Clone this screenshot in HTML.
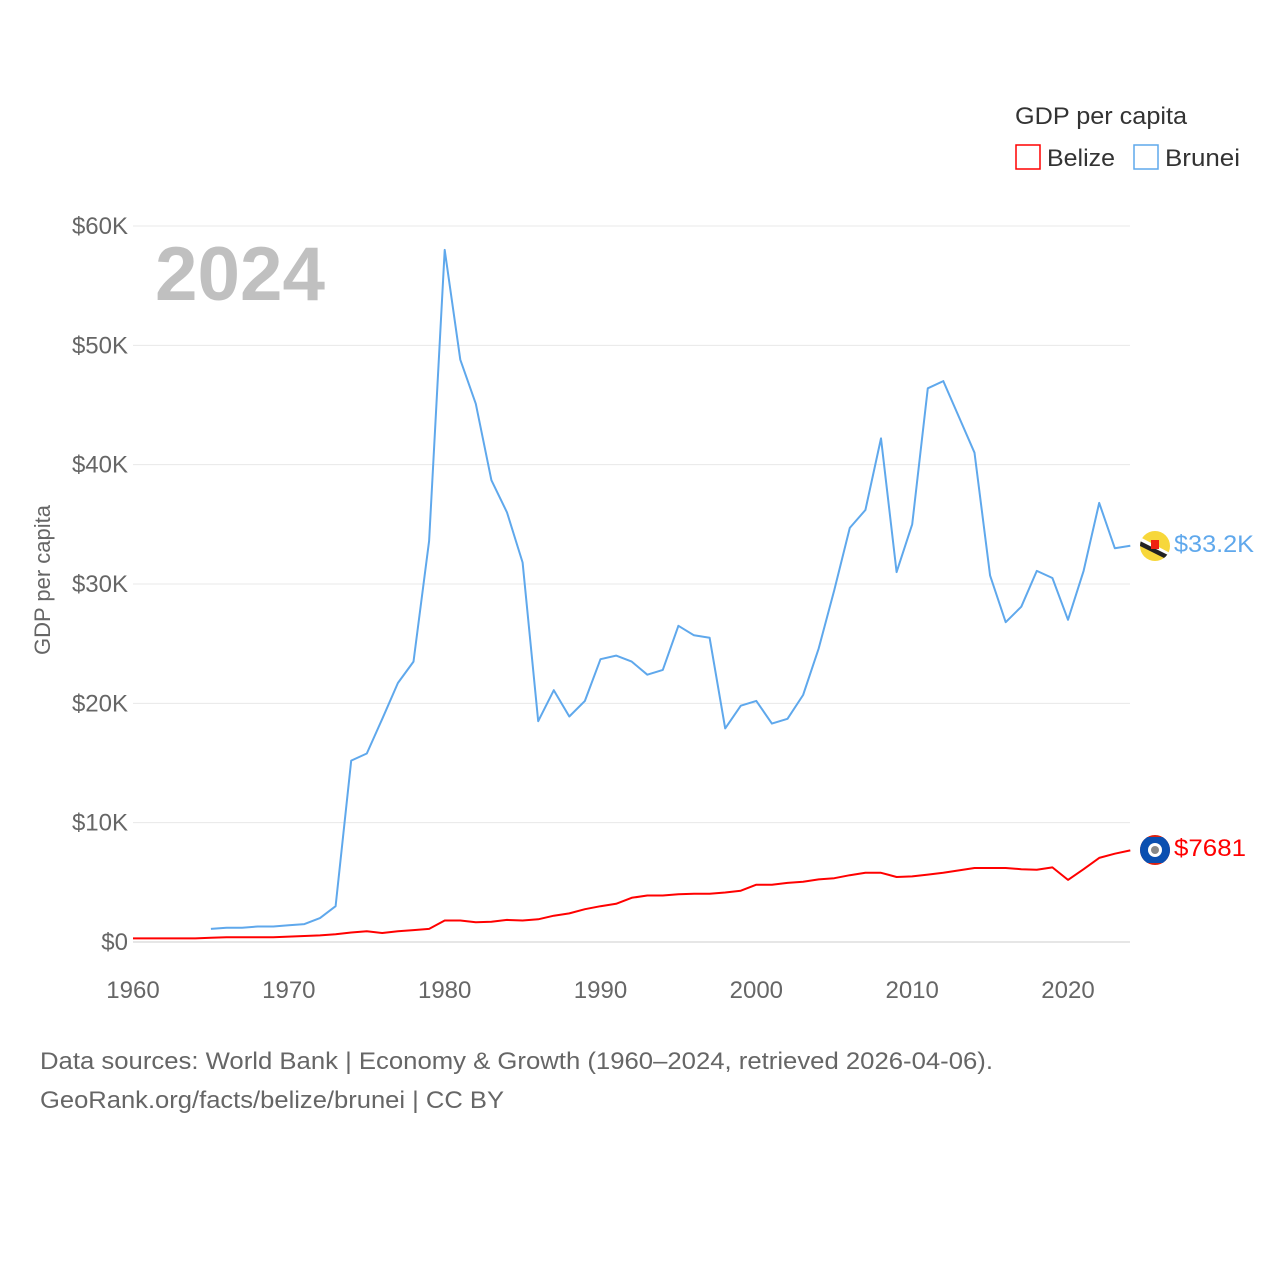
<!DOCTYPE html>
<html><head><meta charset="utf-8"><style>
body{margin:0;background:#fff;font-family:"Liberation Sans",sans-serif;}
svg text{font-family:"Liberation Sans",sans-serif;}
</style></head><body>
<svg width="1280" height="1280" viewBox="0 0 1280 1280">
<rect width="1280" height="1280" fill="#fff"/>
<g id="grid"></g>
<g id="yticks"></g>
<g id="xticks"></g>
<text x="155" y="300" font-size="76" font-weight="bold" fill="#c0c0c0" textLength="170" lengthAdjust="spacingAndGlyphs">2024</text>
<text transform="translate(50,580) rotate(-90)" font-size="22" fill="#666" text-anchor="middle">GDP per capita</text>
<g id="series"></g>
<g>
<text x="1015" y="124" font-size="24" fill="#333" textLength="172" lengthAdjust="spacingAndGlyphs">GDP per capita</text>
<g><rect x="1016" y="145" width="24" height="24" fill="none" stroke="#ff0000" stroke-width="1.5"/><text x="1047" y="166" font-size="24" fill="#333" textLength="68" lengthAdjust="spacingAndGlyphs">Belize</text></g>
<g><rect x="1134" y="145" width="24" height="24" fill="none" stroke="#5fa8ec" stroke-width="1.5"/><text x="1165" y="166" font-size="24" fill="#333" textLength="75" lengthAdjust="spacingAndGlyphs">Brunei</text></g>
</g>
<g>
<clipPath id="cb"><circle cx="1155" cy="546" r="15"/></clipPath>
<g clip-path="url(#cb)"><rect x="1138" y="529" width="34" height="34" fill="#f7d73a"/>
<polygon points="1138,536 1172,554 1172,560 1138,542" fill="#fff"/>
<polygon points="1138,540 1172,557 1172,562 1138,545" fill="#222"/>
<rect x="1151" y="540" width="8" height="9" fill="#e21"/></g></g>
<g>
<clipPath id="cz"><circle cx="1155" cy="850" r="15"/></clipPath>
<g clip-path="url(#cz)"><rect x="1138" y="833" width="34" height="34" fill="#d21"/>
<rect x="1138" y="837" width="34" height="26" fill="#0b4fb0"/>
<circle cx="1155" cy="850" r="7" fill="#fff"/><circle cx="1155" cy="850" r="4" fill="#888"/></g></g>
<text x="1174" y="552" font-size="24" fill="#5fa8ec" textLength="80" lengthAdjust="spacingAndGlyphs">$33.2K</text>
<text x="1174" y="856" font-size="24" fill="#ff0000" textLength="72" lengthAdjust="spacingAndGlyphs">$7681</text>
<text x="40" y="1069" font-size="24" fill="#666" textLength="953" lengthAdjust="spacingAndGlyphs">Data sources: World Bank | Economy &amp; Growth (1960–2024, retrieved 2026-04-06).</text>
<text x="40" y="1108" font-size="24" fill="#666" textLength="464" lengthAdjust="spacingAndGlyphs">GeoRank.org/facts/belize/brunei | CC BY</text>
</svg>
<script>
const yTicks=[0,10,20,30,40,50,60];
const yTickLabels=["$0","$10K","$20K","$30K","$40K","$50K","$60K"];
const xTicks=[1960,1970,1980,1990,2000,2010,2020];
const bruneiStart=1965;
const bruneiValues=[1.1,1.2,1.2,1.3,1.3,1.4,1.5,2.0,3.0,15.2,15.8,18.7,21.7,23.5,33.6,58.0,48.8,45.1,38.7,36.0,31.8,18.5,21.1,18.9,20.2,23.7,24.0,23.5,22.4,22.8,26.5,25.7,25.5,17.9,19.8,20.2,18.3,18.7,20.7,24.6,29.5,34.7,36.2,42.2,31.0,35.0,46.4,47.0,44.0,41.0,30.7,26.8,28.1,31.1,30.5,27.0,31.1,36.8,33.0,33.2];
const belizeStart=1960;
const belizeValues=[0.3,0.3,0.3,0.3,0.3,0.35,0.4,0.4,0.4,0.4,0.45,0.5,0.55,0.65,0.8,0.9,0.75,0.9,1.0,1.1,1.8,1.8,1.65,1.7,1.85,1.8,1.9,2.2,2.4,2.75,3.0,3.2,3.7,3.9,3.9,4.0,4.05,4.05,4.15,4.3,4.8,4.8,4.95,5.05,5.25,5.35,5.6,5.8,5.8,5.45,5.5,5.65,5.8,6.0,6.2,6.2,6.2,6.1,6.05,6.25,5.2,6.1,7.05,7.4,7.68];
const NS='http://www.w3.org/2000/svg';
const xs=y=>133+(y-1960)*(1068-133)/60;
const ys=v=>942-v*(942-226)/60;
function mk(t,a){const e=document.createElementNS(NS,t);for(const k in a)e.setAttribute(k,a[k]);return e;}
const grid=document.getElementById('grid'),yt=document.getElementById('yticks'),xt=document.getElementById('xticks'),se=document.getElementById('series');
yTicks.forEach((v,i)=>{
 const l=mk('line',{x1:133,x2:1130,y1:ys(v),y2:ys(v),stroke:v===0?'#ccc':'#e8e8e8','stroke-width':1});
 
 
 grid.appendChild(l);
 const t=mk('text',{x:128,y:ys(v)+8,'font-size':24,fill:'#666','text-anchor':'end'});
 t.textContent=yTickLabels[i];
 
 
 yt.appendChild(t);
});
xTicks.forEach(y=>{
 const t=mk('text',{x:xs(y),y:998,'font-size':24,fill:'#666','text-anchor':'middle'});
 t.textContent=y;
 
 
 xt.appendChild(t);
});
function line(vals,start,color,name){
 const d=vals.map((v,i)=>(i?'L':'M')+xs(start+i).toFixed(1)+','+ys(v).toFixed(1)).join('');
 const p=mk('path',{d:d,fill:'none',stroke:color,'stroke-width':2,'stroke-linejoin':'round'});
 
 
 se.appendChild(p);
}
line(bruneiValues,bruneiStart,'#5fa8ec','brunei-line');
line(belizeValues,belizeStart,'#ff0000','belize-line');
</script>
</body></html>
